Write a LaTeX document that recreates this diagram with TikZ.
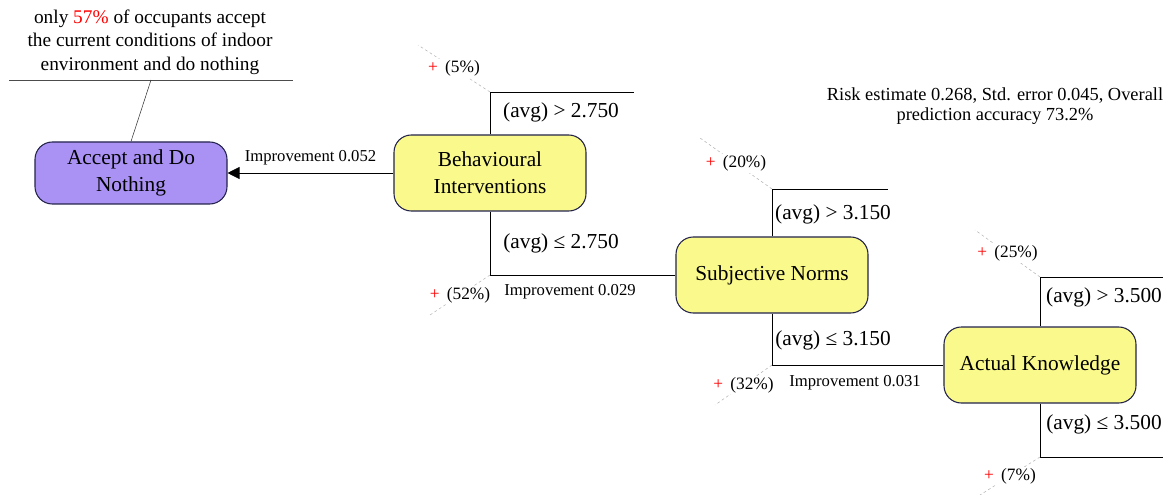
\documentclass[tikz,border=0pt]{standalone}
\usepackage{fontspec}
\setmainfont{Liberation Serif}
\usetikzlibrary{calc,arrows.meta}

\definecolor{nodeyellow}{RGB}{250,249,140}
\definecolor{nodepurple}{RGB}{170,146,245}
\definecolor{nodeedge}{RGB}{35,35,75}

\tikzset{
	factor/.style={draw=nodeedge, line width=0.8pt, fill=nodeyellow, rounded corners=13pt,
		minimum width=144pt, minimum height=57pt, align=center, font=\fontsize{16}{20}\selectfont},
	cond/.style={font=\fontsize{16}{19}\selectfont},
	gain/.style={font=\fontsize{12.5}{15}\selectfont},
	share/.style={text=black, fill=white, inner sep=1pt, font=\fontsize{13}{15}\selectfont},
	split/.style={gray!60, dashed, dash pattern=on 2pt off 2pt, line width=0.4pt},
}
% dashed split marker from a branch corner, with its share label
\def\splitmark(#1)(#2)#3{\draw[split] (#1) -- node[share] {{\color{red}+}\, (#3\%)} ++(#2);}

\begin{document}
\begin{tikzpicture}[x=0.75pt, y=-0.75pt]
		%%%%% START %%%%%
		\useasboundingbox (0,0) rectangle (1173,495);
		
		\node[factor, fill=nodepurple, minimum height=46.5pt] (accept) at (131,173) {Accept and Do\\Nothing};
		\node[factor] (behav) at (490,173) {Behavioural\\Interventions};
		\node[factor] (subj) at (772,275) {Subjective Norms};
		\node[factor] (know) at (1040,365) {Actual Knowledge};
		
		\node[align=center, font=\fontsize{14.5}{17.5}\selectfont] (note) at (150,42)
			{only {\color{red}57\%} of occupants accept\\the current conditions of indoor\\environment and do nothing};
		\coordinate (noteL) at (9,80);
		\coordinate (noteR) at (293,80);
		\draw[black!70] (noteL) -- (noteR);
		\draw[black!80] ($(noteL)!0.5!(noteR)$) -- (accept.north);
		
		\draw[-{Triangle[length=9pt, width=9pt]}, line width=0.6pt] (behav.west) -- node[gain, above=2pt] {Improvement 0.052} (accept.east);
		
		% behavioural interventions
		\coordinate (behavEnd) at (634,92);
		\coordinate (behavHi) at (behav.north |- behavEnd);
		\coordinate (behavLo) at (behav.south |- subj.west);
		\draw[line width=0.6pt] (behav.north) |- (behavEnd);
		\draw[line width=0.6pt] (behav.south) |- (subj.west);
		\node[cond] (behavGt) at (561,112) {(avg) > 2.750};
		\node[cond] (behavLe) at (561,243) {(avg) ≤ 2.750};
		\node[gain] (behavGain) at (570,292) {Improvement 0.029};
		\splitmark(behavHi)(-72,-47){5}
		\splitmark(behavLo)(-60,40){52}
		
		% subjective norms
		\coordinate (subjEnd) at (888,189);
		\coordinate (subjHi) at (subj.north |- subjEnd);
		\coordinate (subjLo) at (subj.south |- know.west);
		\draw[line width=0.6pt] (subj.north) |- (subjEnd);
		\draw[line width=0.6pt] (subj.south) |- (know.west);
		\node[cond] (subjGt) at (833,214) {(avg) > 3.150};
		\node[cond] (subjLe) at (833,340) {(avg) ≤ 3.150};
		\node[gain] (subjGain) at (855,383) {Improvement 0.031};
		\splitmark(subjHi)(-72,-51){20}
		\splitmark(subjLo)(-57,40){32}
		
		% actual knowledge
		\coordinate (knowHiEnd) at (1163,277);
		\coordinate (knowLoEnd) at (1163,457);
		\coordinate (knowHi) at (know.north |- knowHiEnd);
		\coordinate (knowLo) at (know.south |- knowLoEnd);
		\draw[line width=0.6pt] (know.north) |- (knowHiEnd);
		\draw[line width=0.6pt] (know.south) |- (knowLoEnd);
		\node[cond] (knowGt) at (1104,297) {(avg) > 3.500};
		\node[cond] (knowLe) at (1104,424) {(avg) ≤ 3.500};
		\splitmark(knowHi)(-65,-47){25}
		\splitmark(knowLo)(-60,38){7}
		
		\node[align=center, font=\fontsize{13.8}{15}\selectfont] (risk) at (995,106)
			{Risk estimate 0.268, Std. error 0.045, Overall\\prediction accuracy 73.2\%};
		
		%%%%% END %%%%%
\end{tikzpicture}
\end{document}
